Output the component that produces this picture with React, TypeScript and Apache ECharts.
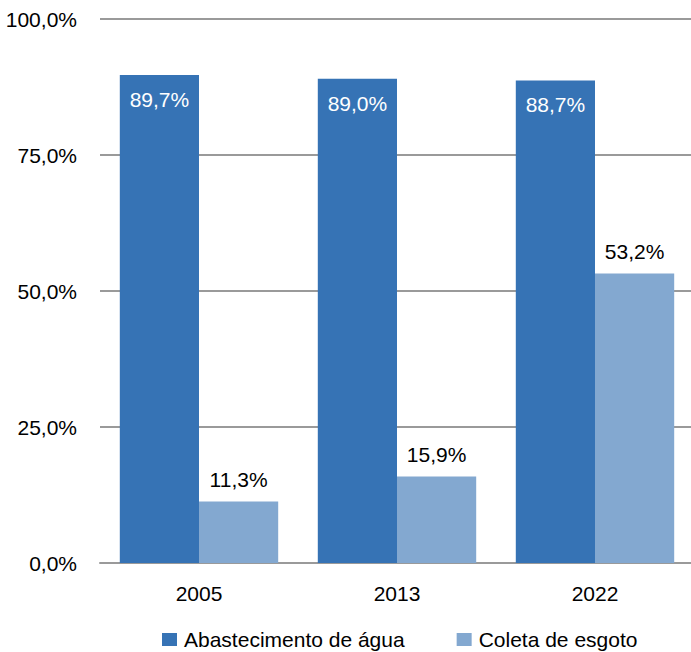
import React, { useEffect, useRef } from "react";
import * as echarts from "echarts";

const categories = ["2005", "2013", "2022"];
const seriesNames = ["Abastecimento de água", "Coleta de esgoto"];
const agua = [89.7, 89.0, 88.7];
const esgoto = [11.3, 15.9, 53.2];
const yTicks = [0, 25, 50, 75, 100];

const FONT = "'Liberation Sans', Arial, sans-serif";
const FS = 21;
const fmt = (v: number) => v.toFixed(1).replace(".", ",") + "%";

export default function App() {
  const ref = useRef<HTMLDivElement>(null);
  useEffect(() => {
    if (!ref.current) return;
    const chart = echarts.init(ref.current, null, { renderer: "svg" });
    chart.setOption({
      animation: false,
      backgroundColor: "#ffffff",
      textStyle: { fontFamily: FONT },
      grid: { left: 100, right: -3, top: 19, bottom: 89, containLabel: false, outerBoundsMode: "none" },
      legend: {
        left: 157,
        top: 624,
        itemWidth: 15,
        itemHeight: 13,
        itemGap: 52,
        icon: "rect",
        textStyle: { fontFamily: FONT, fontSize: FS, color: "#000", padding: [0, 0, 0, 2] },
        data: seriesNames,
      },
      xAxis: {
        type: "category",
        data: categories,
        axisLine: { lineStyle: { color: "#9a9a9a", width: 2 } },
        axisTick: { show: false },
        axisLabel: { fontFamily: FONT, fontSize: FS, color: "#000", margin: 20 },
      },
      yAxis: {
        type: "value",
        min: yTicks[0],
        max: yTicks[yTicks.length - 1],
        interval: 25,
        axisLine: { show: false },
        axisTick: { show: false },
        splitLine: { lineStyle: { color: "#9a9a9a", width: 2 } },
        axisLabel: {
          fontFamily: FONT,
          fontSize: FS,
          color: "#000",
          margin: 23,
          formatter: (v: number) => fmt(v),
        },
      },
      series: [
        {
          name: seriesNames[0],
          type: "bar",
          data: agua,
          barGap: "0%",
          barCategoryGap: "20%",
          itemStyle: { color: "#3673b5" },
          label: {
            show: true,
            position: "insideTop",
            distance: 14,
            color: "#ffffff",
            fontFamily: FONT,
            fontSize: FS,
            formatter: (p: any) => fmt(p.value),
          },
        },
        {
          name: seriesNames[1],
          type: "bar",
          data: esgoto,
          barGap: "0%",
          barCategoryGap: "20%",
          itemStyle: { color: "#83a8d0" },
          label: {
            show: true,
            position: "top",
            distance: 12,
            color: "#000",
            fontFamily: FONT,
            fontSize: FS,
            formatter: (p: any) => fmt(p.value),
          },
        },
      ],
    });
    return () => chart.dispose();
  }, []);
  return (
    <div
      ref={ref}
      style={{ position: "fixed", left: 0, top: 0, width: 691, height: 652, background: "#fff" }}
    />
  );
}
